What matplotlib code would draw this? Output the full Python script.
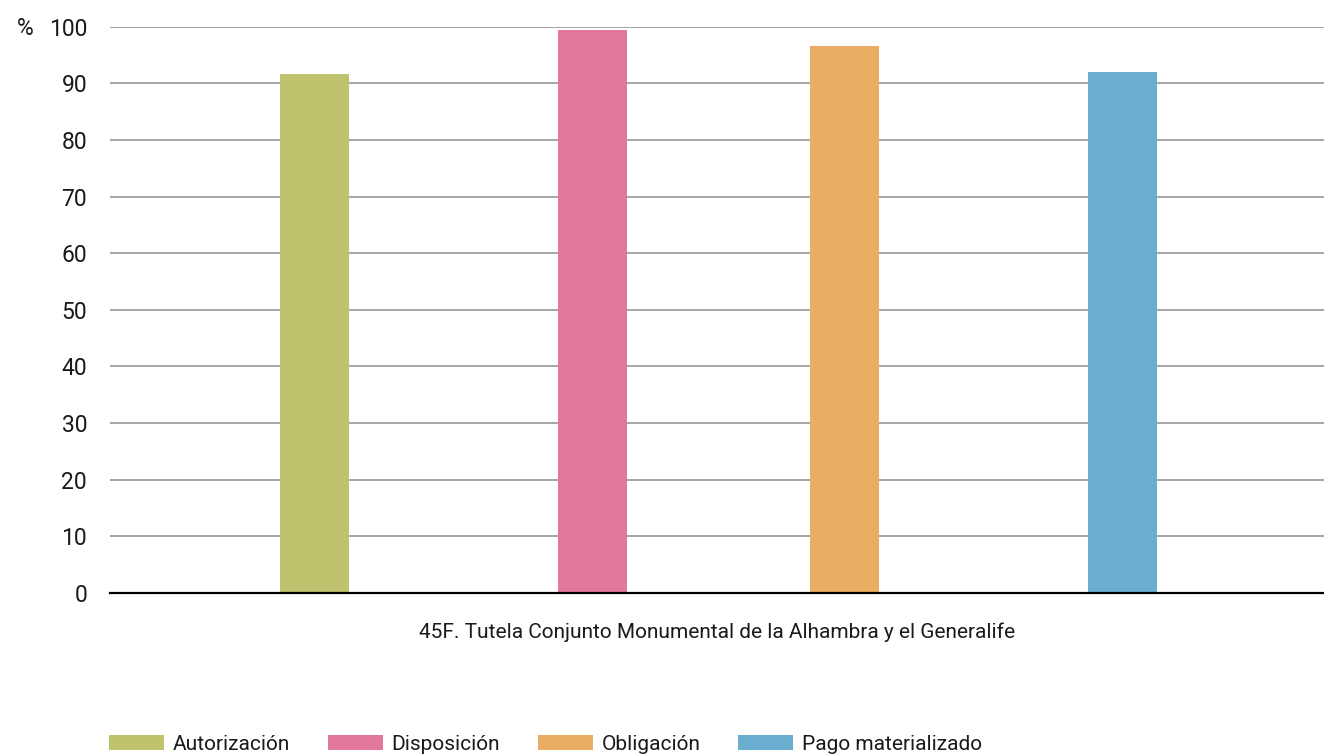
import matplotlib
matplotlib.use("Agg")
import matplotlib.pyplot as plt
from matplotlib.patches import Patch

# datos
series = ["Autorización", "Disposición", "Obligación", "Pago materializado"]
valores = [91.7, 99.5, 96.6, 92.0]
colores = ["#BFC36E", "#E2799B", "#E9AE61", "#6AADD1"]
yticks = [0, 10, 20, 30, 40, 50, 60, 70, 80, 90, 100]
categoria = "45F. Tutela Conjunto Monumental de la Alhambra y el Generalife"

# posiciones de las barras dentro del eje (fraccion del ancho)
pos_x = [0.1684, 0.3974, 0.6050, 0.8340]
ancho = 0.0568

plt.rcParams['font.family'] = ['Roboto', 'DejaVu Sans']

W, H = 1324, 756
fig = plt.figure(figsize=(W / 100, H / 100), dpi=100)
ax = fig.add_axes([110 / W, 1 - 593 / H, 1 - 110 / W, (593 - 26.7) / H])

ax.bar(pos_x, valores, width=ancho, color=colores, zorder=3)

ax.set_xlim(0, 1)
ax.set_ylim(0, 100)
ax.set_yticks(yticks)
ax.set_xticks([])
ax.yaxis.grid(True, color="#a6a6a6", linewidth=1.4, zorder=0)
for s in ["top", "right", "left"]:
    ax.spines[s].set_visible(False)
ax.spines["bottom"].set_color("black")
ax.spines["bottom"].set_linewidth(1.6)
ax.spines["bottom"].set_zorder(4)
ax.tick_params(axis="y", length=0, pad=16.5, labelsize=16.5, labelcolor="#1a1a1a")

fig.text(17 / W, 1 - 28.5 / H, "%", fontsize=16.5, ha="left", va="center", color="#1a1a1a")
fig.text((110 + W) / 2 / W, 1 - 632 / H, categoria, fontsize=15,
         ha="center", va="center", color="#1a1a1a")

handles = [Patch(facecolor=c, edgecolor="none", label=s) for s, c in zip(series, colores)]
fig.legend(handles=handles, loc="center left", bbox_to_anchor=(109 / W, 1 - 744 / H),
           ncol=4, frameon=False, fontsize=15, borderpad=0, borderaxespad=0,
           handlelength=2.64, handleheight=0.72, handletextpad=0.43, columnspacing=1.8,
           labelcolor="#1a1a1a")

fig.savefig("out.png", dpi=100)
